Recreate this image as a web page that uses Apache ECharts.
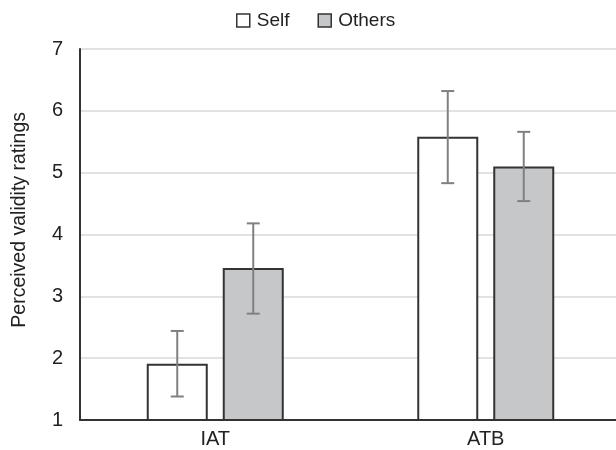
<!DOCTYPE html>
<html><head><meta charset="utf-8">
<script src="https://cdn.jsdelivr.net/npm/echarts@6/dist/echarts.min.js"></script>
<style>html,body{margin:0;padding:0;background:#fff;overflow:hidden;width:616px;height:450px}#c{width:621px;height:450px}</style>
</head><body><div id="c"></div>
<script>
var categories = ['IAT', 'ATB'];
var selfValues = [1.91, 5.58];
var othersValues = [3.46, 5.10];
var selfLow = [1.38, 4.83];
var selfHigh = [2.44, 6.32];
var othersLow = [2.72, 4.54];
var othersHigh = [4.18, 5.66];
var yTicks = [1, 2, 3, 4, 5, 6, 7];
var yTitle = 'Perceived validity ratings';

var BAR_W = 61, GAP = 15;
var FONT = 'Liberation Sans, Arial, sans-serif';

function errSeries(low, high, offset) {
  return {
    type: 'custom',
    z: 10,
    data: categories.map(function (c, i) { return [i, low[i], high[i]]; }),
    renderItem: function (params, api) {
      var lo = api.coord([api.value(0), api.value(1)]);
      var hi = api.coord([api.value(0), api.value(2)]);
      var x = lo[0] + offset;
      var cap = 6.5;
      var st = { stroke: '#808080', lineWidth: 2 };
      return { type: 'group', children: [
        { type: 'line', shape: { x1: x, y1: lo[1], x2: x, y2: hi[1] }, style: st },
        { type: 'line', shape: { x1: x - cap, y1: lo[1], x2: x + cap, y2: lo[1] }, style: st },
        { type: 'line', shape: { x1: x - cap, y1: hi[1], x2: x + cap, y2: hi[1] }, style: st }
      ]};
    }
  };
}

var chart = echarts.init(document.getElementById('c'), null, { renderer: 'canvas' });
chart.setOption({
  animation: false,
  textStyle: { fontFamily: FONT },
  legend: {
    top: 6, left: 231, itemWidth: 13, itemHeight: 13, itemGap: 28,
    textStyle: { fontSize: 19, color: '#222', fontFamily: FONT, padding: [0, 0, 0, 2] },
    data: [
      { name: 'Self', icon: 'rect', itemStyle: { color: '#fff', borderColor: '#333', borderWidth: 1.5 } },
      { name: 'Others', icon: 'rect', itemStyle: { color: '#c6c7c9', borderColor: '#333', borderWidth: 1.5 } }
    ]
  },
  graphic: [{
    type: 'text', left: 10, top: 112,
    rotation: Math.PI / 2,
    style: { text: yTitle, font: '19.5px ' + FONT, fill: '#222' }
  }],
  grid: { left: 80, right: 0, top: 49, bottom: 30, containLabel: false },
  xAxis: {
    type: 'category', data: categories,
    axisLine: { lineStyle: { color: '#333', width: 2 } },
    axisTick: { show: false },
    axisLabel: { fontSize: 20, color: '#222', margin: 9, fontFamily: FONT }
  },
  yAxis: {
    type: 'value', min: yTicks[0], max: yTicks[yTicks.length - 1], interval: 1,
    axisLine: { show: true, lineStyle: { color: '#333', width: 2 } },
    axisTick: { show: false },
    axisLabel: { fontSize: 20, color: '#222', margin: 17, fontFamily: FONT },
    splitLine: { lineStyle: { color: '#d9d9d9', width: 1.5 } }
  },
  series: [
    { name: 'Self', type: 'bar', data: selfValues, barWidth: BAR_W, barGap: (GAP / BAR_W * 100) + '%',
      itemStyle: { color: '#fff', borderColor: '#333', borderWidth: 2 } },
    { name: 'Others', type: 'bar', data: othersValues, barWidth: BAR_W,
      itemStyle: { color: '#c6c7c9', borderColor: '#333', borderWidth: 2 } },
    errSeries(selfLow, selfHigh, -(BAR_W + GAP) / 2),
    errSeries(othersLow, othersHigh, (BAR_W + GAP) / 2)
  ]
});
</script></body></html>
